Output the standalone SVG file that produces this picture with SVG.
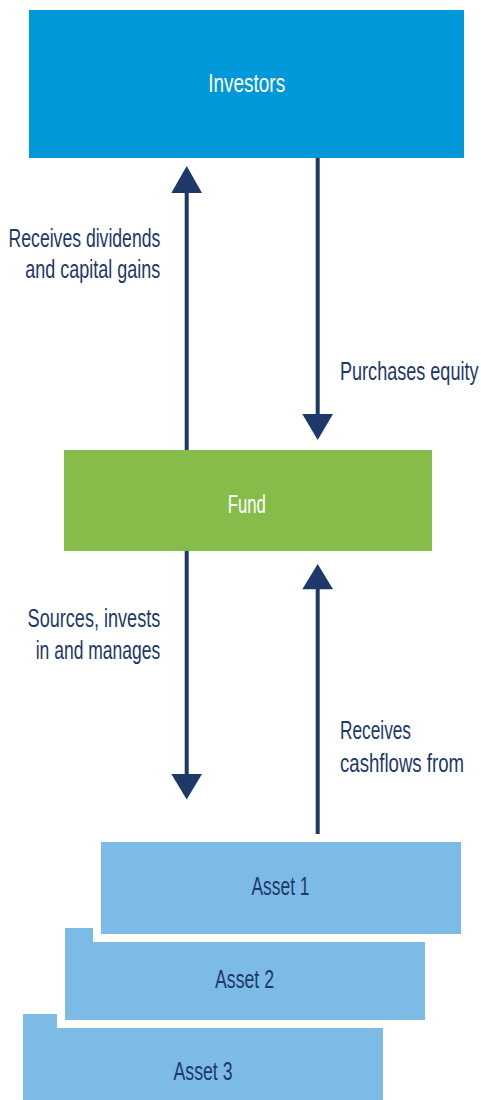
<svg xmlns="http://www.w3.org/2000/svg" width="481" height="1100" viewBox="0 0 481 1100">
<style>
.lbl{font-family:"Liberation Sans",Arial,sans-serif;font-size:26px;fill:#1e3868}
.wt{font-family:"Liberation Sans",Arial,sans-serif;font-size:26px;fill:#ffffff}
.asset{fill:#7dbbe7}
.halo{fill:#ffffff}
.conn line{stroke:#1e3868;stroke-width:4}
.conn polygon{fill:#1e3868}
</style>
<rect width="481" height="1100" fill="#ffffff"/>
<g id="investors">
<rect x="29" y="10" width="435" height="148" fill="#0098d9"/>
<text class="wt" x="246.7" y="91.7" text-anchor="middle" textLength="77" lengthAdjust="spacingAndGlyphs">Investors</text>
</g>
<g id="fund">
<rect x="64" y="450" width="368" height="101" fill="#86bc4a"/>
<text class="wt" x="246.8" y="512.7" text-anchor="middle" textLength="38" lengthAdjust="spacingAndGlyphs">Fund</text>
</g>
<g id="asset3">
<rect class="asset" x="23" y="1014" width="360" height="86"/>
<text class="lbl" x="203" y="1080" text-anchor="middle" textLength="59" lengthAdjust="spacingAndGlyphs">Asset 3</text>
</g>
<g id="asset2">
<rect class="halo" x="57" y="920" width="376" height="108"/>
<rect class="asset" x="65" y="928" width="360" height="92"/>
<text class="lbl" x="244.5" y="988" text-anchor="middle" textLength="59" lengthAdjust="spacingAndGlyphs">Asset 2</text>
</g>
<g id="asset1">
<rect class="halo" x="93" y="834" width="376" height="108"/>
<rect class="asset" x="101" y="842" width="360" height="92"/>
<text class="lbl" x="280.5" y="895" text-anchor="middle" textLength="58" lengthAdjust="spacingAndGlyphs">Asset 1</text>
</g>
<g id="connectors" class="conn">
<line x1="186.7" y1="450" x2="186.7" y2="192"/>
<polygon points="171.3,193 202,193 186.7,166"/>
<line x1="317.7" y1="158" x2="317.7" y2="415"/>
<polygon points="302.3,414 333,414 317.7,440"/>
<line x1="186.7" y1="551" x2="186.7" y2="775"/>
<polygon points="171.3,774 202,774 186.7,799.5"/>
<line x1="317.7" y1="834" x2="317.7" y2="588"/>
<polygon points="302.3,589.3 333,589.3 317.7,564"/>
</g>
<g id="labels">
<text class="lbl" x="160.3" y="246.5" text-anchor="end" textLength="151.7" lengthAdjust="spacingAndGlyphs">Receives dividends</text>
<text class="lbl" x="160.3" y="278" text-anchor="end" textLength="135" lengthAdjust="spacingAndGlyphs">and capital gains</text>
<text class="lbl" transform="translate(340,380) scale(0.695,1)" x="0" y="0" textLength="199.3" lengthAdjust="spacingAndGlyphs">Purchases equity</text>
<text class="lbl" x="160.3" y="626.7" text-anchor="end" textLength="132.7" lengthAdjust="spacingAndGlyphs">Sources, invests</text>
<text class="lbl" x="160.3" y="659.3" text-anchor="end" textLength="124.6" lengthAdjust="spacingAndGlyphs">in and manages</text>
<text class="lbl" x="340" y="739.3" textLength="71" lengthAdjust="spacingAndGlyphs">Receives</text>
<text class="lbl" transform="translate(340,772) scale(0.715,1)" x="0" y="0" textLength="173.4" lengthAdjust="spacingAndGlyphs">cashflows from</text>
</g>
</svg>
